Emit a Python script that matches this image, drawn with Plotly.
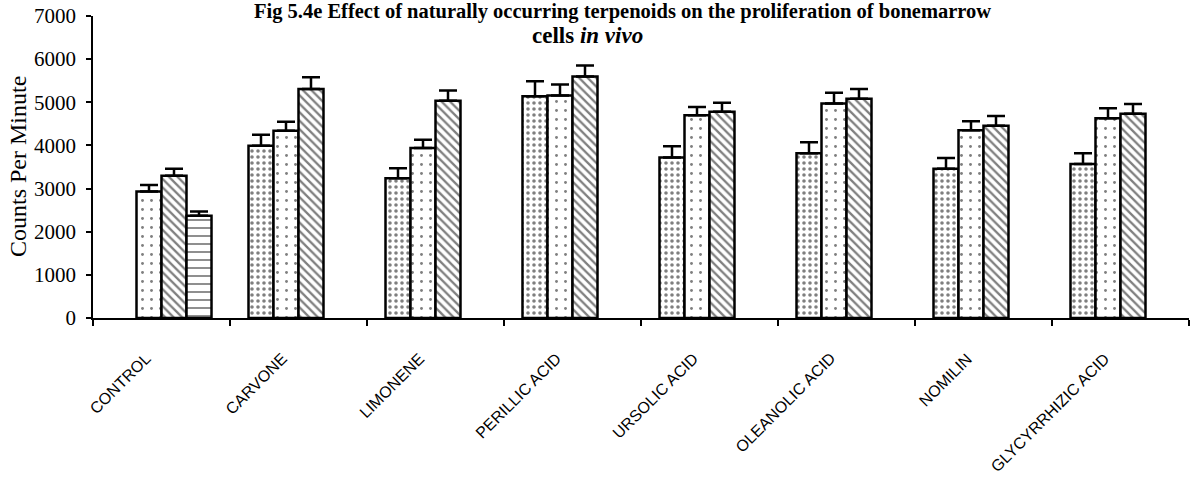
import plotly.graph_objects as go

categories = ["CONTROL", "CARVONE", "LIMONENE", "PERILLIC ACID", "URSOLIC ACID",
              "OLEANOLIC ACID", "NOMILIN", "GLYCYRRHIZIC ACID"]

s1_vals = [None, 3990, 3240, 5140, 3720, 3820, 3460, 3570]
s1_err = [None, 260, 230, 350, 260, 255, 250, 250]
s2_vals = [2930, 4340, 3940, 5160, 4700, 4970, 4350, 4630]
s2_err = [150, 210, 190, 250, 190, 250, 210, 230]
s3_vals = [3300, 5310, 5035, 5600, 4780, 5080, 4455, 4735]
s3_err = [160, 270, 240, 255, 210, 230, 230, 225]
s4_vals = [2370, None, None, None, None, None, None, None]
s4_err = [100, None, None, None, None, None, None, None]

y_ticks = [0, 1000, 2000, 3000, 4000, 5000, 6000, 7000]

patterns = [
    dict(shape=".", size=6, solidity=0.28, fgcolor="black", bgcolor="white"),
    dict(shape=".", size=9, solidity=0.08, fgcolor="black", bgcolor="white"),
    dict(shape="\\", size=6, solidity=0.38, fgcolor="black", bgcolor="white"),
    dict(shape="-", size=8, solidity=0.22, fgcolor="black", bgcolor="white"),
]

fig = go.Figure()
for vals, errs, pat in zip([s1_vals, s2_vals, s3_vals, s4_vals],
                           [s1_err, s2_err, s3_err, s4_err], patterns):
    fig.add_trace(go.Bar(
        x=categories, y=vals,
        marker=dict(color="white", line=dict(color="black", width=2.5), pattern=pat),
        error_y=dict(type="data", array=errs, symmetric=False,
                     arrayminus=[0] * len(errs), color="black", thickness=2.5, width=9),
        showlegend=False,
    ))

fig.update_layout(
    width=1196, height=479,
    margin=dict(l=93, r=7, t=16, b=161),
    paper_bgcolor="white", plot_bgcolor="white",
    barmode="group", bargap=0.27, bargroupgap=0,
    font=dict(family="Liberation Serif", color="black"),
    xaxis=dict(
        range=[-0.5, len(categories) - 0.5],
        showline=True, linecolor="black", linewidth=1.5,
        ticks="outside", ticklen=6, tickcolor="black", tickwidth=1.5,
        tickson="boundaries", automargin=False, showticklabels=False,
        showgrid=False,
    ),
    yaxis=dict(
        range=[0, 7000], tickvals=y_ticks, automargin=False,
        showline=True, linecolor="black", linewidth=1.5,
        ticks="outside", ticklen=5, tickcolor="black", tickwidth=1.5,
        tickfont=dict(family="Liberation Serif", size=21, color="black"),
        ticklabelstandoff=6,
        showgrid=False, zeroline=False,
    ),
)

for cat in categories:
    fig.add_annotation(text=cat, x=cat, y=0, xref="x", yref="y",
                       xanchor="right", yanchor="top", xshift=-5, yshift=-29,
                       textangle=-45, showarrow=False,
                       font=dict(family="Liberation Sans", size=16, color="black"))

fig.add_annotation(text="Counts Per Minute", xref="paper", yref="paper",
                   x=-(93 - 18) / 1096, y=0.5, xanchor="center", yanchor="middle",
                   textangle=-90, showarrow=False,
                   font=dict(family="Liberation Serif", size=24, color="black"))
fig.add_annotation(text="<b>Fig 5.4e Effect of naturally occurring terpenoids on the proliferation of bonemarrow</b>",
                   xref="paper", yref="paper", x=(622 - 93) / 1096, y=(318 + 2) / 302,
                   xanchor="center", yanchor="top", showarrow=False,
                   font=dict(family="Liberation Serif", size=20.5, color="black"))
fig.add_annotation(text="<b>cells <i>in vivo</i></b>",
                   xref="paper", yref="paper", x=(587 - 93) / 1096, y=(318 - 50) / 302,
                   xanchor="center", yanchor="bottom", showarrow=False,
                   font=dict(family="Liberation Serif", size=23, color="black"))

fig.write_html("out.html")
